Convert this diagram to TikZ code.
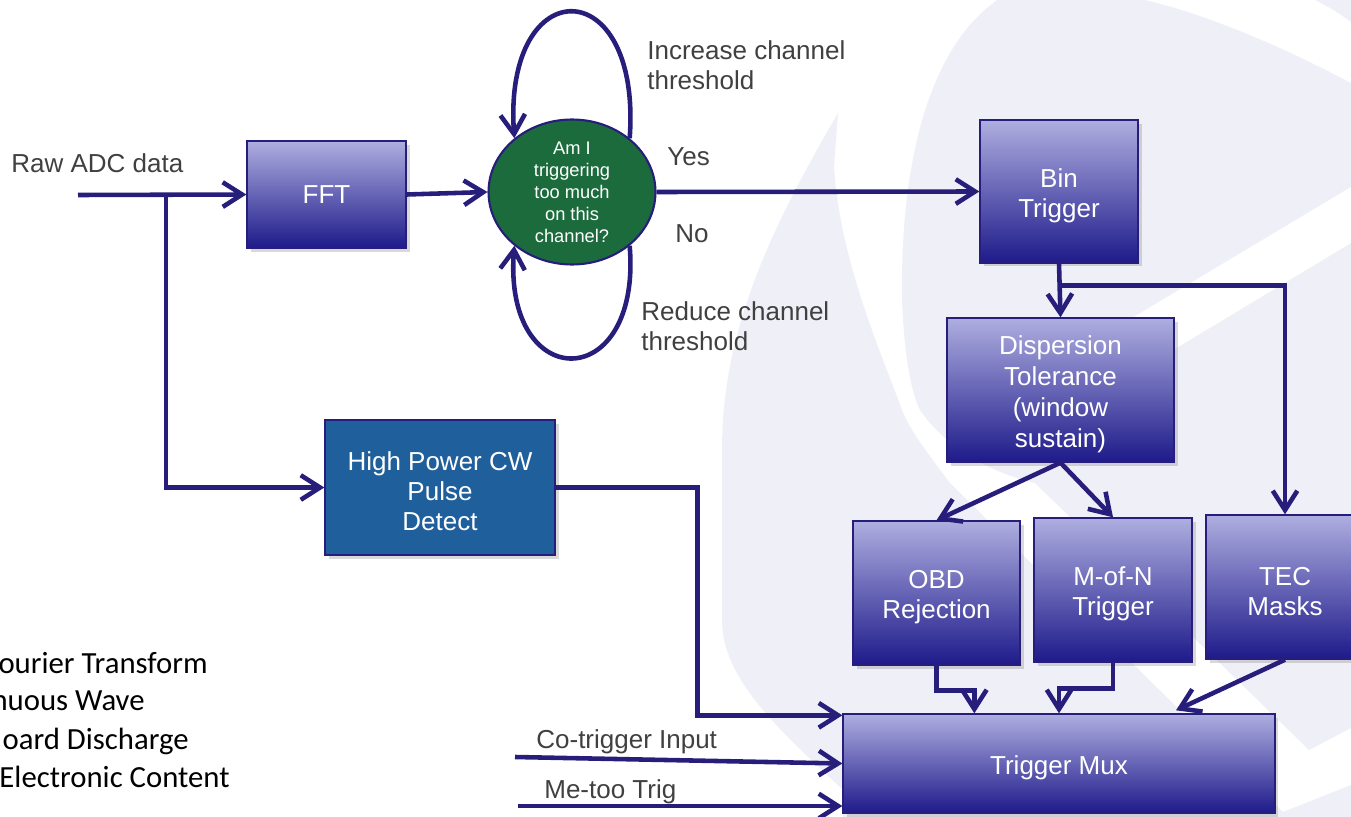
\documentclass[tikz,border=0pt]{standalone}
\usepackage{fontspec}
\setmainfont{Liberation Sans}
\newfontfamily\legendfont{Carlito}
\usetikzlibrary{arrows.meta,positioning,calc,shapes.geometric,shadows}

\definecolor{navy}{RGB}{38,30,122}
\definecolor{boxtop}{RGB}{174,174,224}
\definecolor{boxmid}{RGB}{134,132,202}
\definecolor{boxbot}{RGB}{30,26,138}
\definecolor{pulseblue}{RGB}{31,95,155}
\definecolor{askgreen}{RGB}{28,107,60}
\definecolor{labelgray}{RGB}{64,64,64}
\definecolor{wmark}{RGB}{239,239,247}

% taller first line, so that block texts sit a little lower
\newcommand\lift{\rule{0pt}{15.2pt}}

\tikzset{
  flow/.style={navy, line width=2.6pt, -{Straight Barb[length=11pt,width=14pt]}},
  block/.style={rectangle, draw=navy, line width=0.8pt, text=white, align=center,
    font=\fontsize{14.8}{17}\selectfont, inner sep=2pt,
    drop shadow={shadow xshift=2pt, shadow yshift=-2pt, opacity=0.3}},
  stage/.style={block, top color=boxtop, middle color=boxmid, bottom color=boxbot},
  alarm/.style={block, fill=pulseblue},
  lbl/.style={text=labelgray, font=\fontsize{14.8}{17}\selectfont, inner sep=0pt, align=left},
}

\begin{document}
\begin{tikzpicture}[x=0.02cm, y=-0.02cm]
\useasboundingbox (0,0) rectangle (1351,817);
\clip (0,0) rectangle (1351,817);

% watermark in the background
\fill[wmark] (838,113) .. controls (770,230) and (722,330) .. (722,450) -- (722,620)
  .. controls (722,680) and (780,730) .. (843,790) -- (843,817) -- (1351,817) -- (1351,785)
  -- (1283,812) -- (950,483) .. controls (925,450) and (910,430) .. (902,410)
  .. controls (880,350) and (840,260) .. (834,167) -- cycle;
\fill[wmark] (1005,-5) .. controls (930,40) and (900,160) .. (902,300)
  .. controls (904,350) and (910,390) .. (920,410) .. controls (940,440) and (980,470) .. (1035,483)
  -- (1309,750) -- (1351,728) -- (1351,83) .. controls (1260,35) and (1180,5) .. (1120,-5) -- cycle;
\fill[white] (1000,397) -- (1351,187) -- (1351,243) -- (1030,436) -- cycle;
\fill[wmark] (1305,-5) -- (1351,-5) -- (1351,22) .. controls (1335,10) and (1320,2) .. (1305,-5);

% processing blocks
\node[stage, minimum width=3.18cm, minimum height=2.14cm] (fft) at (326.5,194.5) {FFT};
\node[ellipse, draw=navy, line width=1.2pt, fill=askgreen, text=white, align=center,
  inner xsep=0pt, inner ysep=-3pt, minimum width=3.34cm, minimum height=2.9cm,
  font=\fontsize{10.4}{12.5}\selectfont] (ask) at (572,192)
  {Am I\\triggering\\too much\\on this\\channel?};
\node[stage, minimum width=3.16cm, minimum height=2.86cm] (bin) at (1059,191.5) {\lift Bin\\Trigger};
\node[stage, minimum width=4.54cm, minimum height=2.88cm, font=\fontsize{14.8}{17.6}\selectfont]
  (disp) at (1060.5,390) {\lift Dispersion\\Tolerance\\(window\\sustain)};
\node[stage, minimum width=3.34cm, minimum height=2.88cm] (obd) at (936.5,593) {\lift OBD\\Rejection};
\node[stage, minimum width=3.16cm, minimum height=2.88cm] (mofn) at (1113,590) {\lift M-of-N\\Trigger};
\node[stage, minimum width=3.16cm, minimum height=2.88cm] (tec) at (1285,587) {\lift TEC\\Masks};
\node[stage, minimum width=8.64cm, minimum height=1.98cm] (mux) at (1059,763.5) {\lift Trigger Mux};
\node[alarm, minimum width=4.6cm, minimum height=2.7cm] (hp) at (440,487.5)
  {\lift High Power CW\\Pulse\\Detect};

% labels
\node[lbl, anchor=base west] (rawlbl) at (11,173) {Raw ADC data};
\node[lbl, anchor=west] (uplbl) at (647,65) {Increase channel\\threshold};
\node[lbl, anchor=base west] (yeslbl) at (667,166) {Yes};
\node[lbl, anchor=base west] (nolbl) at (675,243) {No};
\node[lbl, anchor=west] (downlbl) at (641,326) {Reduce channel\\threshold};
\node[lbl, anchor=base west] (colbl) at (536,748) {Co-trigger Input};
\node[lbl, anchor=base west] (melbl) at (544,798) {Me-too Trig};

% legend, cut at the left edge
\foreach \txt/\xe/\yb [count=\i] in {ourier Transform/208/673, nuous Wave/145/710,
    oard Discharge/189/749, Electronic Content/230/787}
  \node[anchor=base east, inner sep=0pt, font=\legendfont\fontsize{17.5}{21}\selectfont]
    (leg\i) at (\xe,\yb) {\txt};

% connectors
\coordinate (rawin) at (78,195);
\coordinate (split) at (166,195);
\draw[flow] (rawin) -- (fft.west);
\draw[flow] (split) |- (hp.west);
\draw[flow] (fft.east) -- (ask.west);
\draw[flow] (ask.east) -- (bin.west);
\draw[flow] (ask.43) .. controls (642,-30) and (503,-30) .. (ask.137);
\draw[flow] (ask.-43) .. controls (642,395) and (503,395) .. (ask.-137);

\coordinate (tap) at ($(bin.south)+(0,22)$);
\draw[flow] (bin.south) -- (disp.north);
\draw[flow] (tap) -| (tec.north);
\draw[flow] (disp.south) -- (obd.north);
\draw[flow] (disp.south) -- (mofn.north);
\draw[flow] (obd.south) -- ++(0,25) -| ($(mux.north west)+(132,0)$);
\draw[flow] (mofn.south) -- ++(0,26) -| (mux.north);
\draw[flow] (tec.south) -- ($(mux.north)+(117,-3)$);
\draw[flow] (hp.east) -- ++(142,0) |- ($(mux.north west)+(0,2)$);

\coordinate (coin) at (515,757);
\coordinate (meein) at (518,806);
\draw[flow] (coin) -- (mux.west);
\draw[flow] (meein) -- (meein -| mux.west);
\end{tikzpicture}
\end{document}
